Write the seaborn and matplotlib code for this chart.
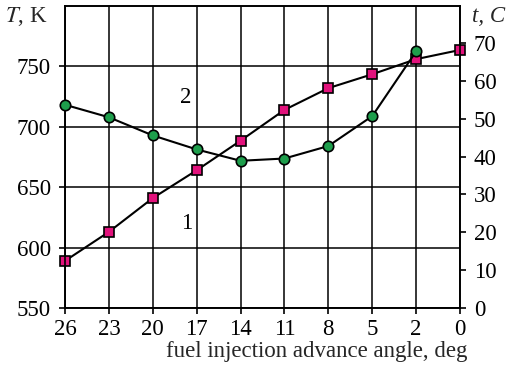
import matplotlib
matplotlib.use("Agg")
import matplotlib.pyplot as plt
import seaborn as sns
import numpy as np
import pandas as pd

# ---- data ----
angle_labels = ["26", "23", "20", "17", "14", "11", "8", "5", "2", "0"]
T_K = [589, 613, 641, 664, 688.5, 714, 732, 743.5, 756, 763.6]          # curve 1 (squares), left axis
t_C = [53.7, 50.4, 45.6, 41.9, 38.9, 39.5, 42.8, 50.7, 67.8, np.nan]     # curve 2 (circles), right axis
left_ticks = [550, 600, 650, 700, 750]
right_ticks = [0, 10, 20, 30, 40, 50, 60, 70]

sns.set_theme(style="white")
plt.rcParams["font.family"] = ["Liberation Serif", "DejaVu Serif"]
plt.rcParams["mathtext.fontset"] = "stix"

pos = np.arange(len(angle_labels))
df = pd.DataFrame({"pos": pos, "T": T_K, "t": t_C})

fig = plt.figure(figsize=(5.08, 3.72), dpi=100)
ax = fig.add_axes([65/508, 1-308/372, (460-65)/508, (308-6)/372])
ax2 = ax.twinx()

FS = 16.5
ax.set_xlim(0, 9)
ax.set_ylim(550, 800)
ax2.set_ylim(0, 79.8)

ax.set_xticks(pos)
ax.set_xticklabels(angle_labels)
ax.set_yticks(left_ticks)
ax2.set_yticks(right_ticks)

for a in (ax, ax2):
    for s in a.spines.values():
        s.set_color("black")
        s.set_linewidth(1.2)
    a.tick_params(colors="black", labelsize=FS, length=4, width=1.2, direction="out")
ax.tick_params(axis="y", pad=6, left=True)
ax.tick_params(axis="x", pad=4, bottom=True)
ax2.tick_params(axis="y", pad=6, right=True)

ax.grid(True, color="black", linewidth=1.1)
ax.set_axisbelow(True)

sns.lineplot(data=df, x="pos", y="T", ax=ax, color="black", linewidth=1.5,
             marker="s", markersize=6.5, markerfacecolor="#E2127C",
             markeredgecolor="black", markeredgewidth=1.2, clip_on=False, zorder=5)
sns.lineplot(data=df.dropna(), x="pos", y="t", ax=ax2, color="black", linewidth=1.5,
             marker="o", markersize=7.5, markerfacecolor="#1E9E4C",
             markeredgecolor="black", markeredgewidth=1.2, clip_on=False, zorder=5)

ax.set_xlabel("")
ax.set_ylabel("")
ax2.set_ylabel("")

ax.text(2.75, 724, "2", fontsize=FS, ha="center", va="center", color="black")
ax.text(2.77, 620, "1", fontsize=FS, ha="center", va="center", color="black")

fig.text(5/508, 1-16/372, "$\\mathit{T}$, K", fontsize=FS, ha="left", va="center")
fig.text(472/508, 1-16/372, "t, C", fontsize=FS, ha="left", va="center", style="italic")
fig.text(467/508, 1-352/372, "fuel injection advance angle, deg", fontsize=FS,
         ha="right", va="center")

fig.savefig("out.png", dpi=100)
